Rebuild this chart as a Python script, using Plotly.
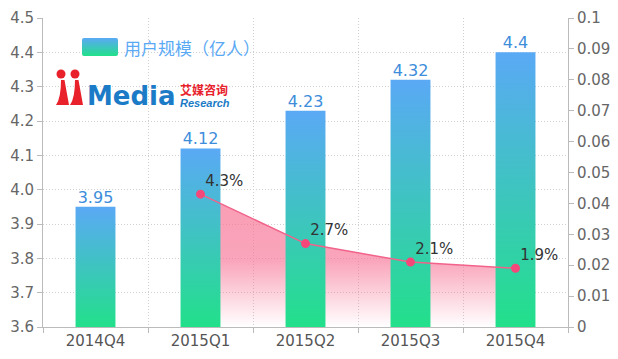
import base64
import plotly.graph_objects as go

# ---- data ----
categories = ["2014Q4", "2015Q1", "2015Q2", "2015Q3", "2015Q4"]
users = [3.95, 4.12, 4.23, 4.32, 4.4]            # 用户规模（亿人）
rate_categories = ["2015Q1", "2015Q2", "2015Q3", "2015Q4"]
rates = [0.043, 0.027, 0.021, 0.019]              # growth rate
user_range = [3.6, 4.5]
rate_range = [0, 0.1]
legend_name = "用户规模（亿人）"

# ---- geometry helpers (plot area in pixels) ----
W, H = 618, 359
L, R, T, B = 43, 50, 18, 32
PW, PH = W - L - R, H - T - B


def px(x):
    return (x - L) / PW


def py(y):
    return (H - B - y) / PH


idx = {c: i for i, c in enumerate(categories)}
half = 0.19
FONT = "DejaVu Sans"

fig = go.Figure()

# growth-rate area (drawn lowest)
rx = [idx[c] for c in rate_categories]
fig.add_trace(go.Scatter(
    x=rx, y=rates, mode="none", fill="tozeroy",
    fillgradient=dict(type="vertical", start=rate_range[0], stop=max(rates),
                      colorscale=[[0, "rgba(246,110,145,0)"],
                                  [0.5, "rgba(246,110,145,0.62)"],
                                  [1, "rgba(246,110,145,0.68)"]]),
    yaxis="y", showlegend=False, hoverinfo="skip"))

# bars with vertical gradient
for i, v in enumerate(users):
    fig.add_trace(go.Scatter(
        x=[i - half, i - half, i + half, i + half, i - half],
        y=[user_range[0], v, v, user_range[0], user_range[0]],
        mode="none", fill="toself",
        fillgradient=dict(type="vertical",
                          colorscale=[[0, "#22e08a"], [1, "#5aa9f5"]]),
        yaxis="y2", showlegend=False, name=categories[i], hoverinfo="skip"))

# bar value labels
fig.add_trace(go.Scatter(
    x=list(range(len(users))), y=users, mode="text",
    text=[f"{v:g}" for v in users], textposition="top center",
    textfont=dict(size=16, color="#3d8ddb", family=FONT),
    yaxis="y2", showlegend=False, hoverinfo="skip"))

# growth-rate line on top
fig.add_trace(go.Scatter(
    x=rx, y=rates, mode="lines+markers+text",
    text=[f"{v * 100:.1f}%" for v in rates], textposition="top right",
    textfont=dict(size=15, color="#333333", family=FONT),
    line=dict(color="#f2628a", width=1.5),
    marker=dict(size=6, color="#f4477a", line=dict(width=3, color="#f4477a")),
    yaxis="y3", showlegend=False))

tickfont = dict(size=15, color="#666666", family=FONT)
GRID = "#d0d0d0"
DOT = "1px,2px"

# legend swatch (gradient) as image + label annotation
svg = ('<svg xmlns="http://www.w3.org/2000/svg" width="36" height="18">'
       '<defs><linearGradient id="g" x1="0" y1="0" x2="0" y2="1">'
       '<stop offset="0" stop-color="#5aa9f5"/><stop offset="1" stop-color="#22e08a"/>'
       '</linearGradient></defs><rect width="36" height="18" rx="2" fill="url(#g)"/></svg>')
src = "data:image/svg+xml;base64," + base64.b64encode(svg.encode()).decode()

images = [dict(source=src, xref="paper", yref="paper", x=px(82), y=py(38),
               sizex=36 / PW, sizey=18 / PH, sizing="stretch",
               xanchor="left", yanchor="top", layer="above")]

annotations = [
    dict(text=legend_name, xref="paper", yref="paper", x=px(123), y=py(47),
         xanchor="left", yanchor="middle", showarrow=False, borderpad=0,
         font=dict(size=17, color="#5aa9f5", family="Noto Sans CJK SC")),
    dict(text="<b>Media</b>", xref="paper", yref="paper", x=px(86), y=py(96),
         xanchor="left", yanchor="middle", showarrow=False, borderpad=0,
         font=dict(size=26, color="#1b7bc6", family=FONT)),
    dict(text="<b>艾媒咨询</b>", xref="paper", yref="paper", x=px(179), y=py(89),
         xanchor="left", yanchor="middle", showarrow=False, borderpad=0,
         font=dict(size=12, color="#e8212b", family="Noto Sans CJK SC")),
    dict(text="<b><i>Research</i></b>", xref="paper", yref="paper", x=px(179), y=py(102.5),
         xanchor="left", yanchor="middle", showarrow=False, borderpad=0,
         font=dict(size=11, color="#1b7bc6", family="Liberation Sans, Arial")),
]

red = "#e8212b"
shapes = [
    dict(type="circle", xref="paper", yref="paper", x0=px(56.5), x1=px(65.5),
         y0=py(78.5), y1=py(69.5), fillcolor=red, line_width=0),
    dict(type="circle", xref="paper", yref="paper", x0=px(70.5), x1=px(79.5),
         y0=py(78.5), y1=py(69.5), fillcolor=red, line_width=0),
]
for x0 in (56, 70):
    path = (f"M {px(x0 + 5)},{py(80)} L {px(x0 + 8.5)},{py(80)} "
            f"L {px(x0 + 13)},{py(105)} L {px(x0)},{py(105)} "
            f"Q {px(x0 + 5)},{py(98)} {px(x0 + 5)},{py(80)} Z")
    shapes.append(dict(type="path", xref="paper", yref="paper", path=path,
                       fillcolor=red, line_width=0))

fig.update_layout(
    width=W, height=H, autosize=False,
    margin=dict(l=L, r=R, t=T, b=B, pad=0, autoexpand=False),
    plot_bgcolor="white", paper_bgcolor="white",
    xaxis=dict(range=[-0.5, len(categories) - 0.5], tickmode="array",
               tickvals=list(range(len(categories))), ticktext=categories,
               ticks="", showgrid=False, zeroline=False, automargin=False,
               showline=True, linecolor="#bbbbbb", linewidth=1,
               tickfont=dict(size=15, color="#555555", family=FONT),
               minor=dict(tickmode="array",
                          tickvals=[i - 0.5 for i in range(len(categories) + 1)],
                          ticks="outside", ticklen=5, tickcolor="#bbbbbb",
                          showgrid=True, gridcolor=GRID, griddash=DOT, gridwidth=1)),
    yaxis=dict(range=rate_range, dtick=0.01, tick0=0, side="right",
               showgrid=False, zeroline=False, showline=True, automargin=False,
               linecolor="#bbbbbb", ticks="outside", ticklen=5, tickcolor="#bbbbbb",
               tickfont=tickfont),
    yaxis2=dict(range=user_range, dtick=0.1, tick0=user_range[0], tickformat=".1f",
                side="left", overlaying="y", automargin=False,
                showgrid=True, gridcolor=GRID, griddash=DOT, gridwidth=1,
                zeroline=False, showline=True, linecolor="#bbbbbb",
                ticks="outside", ticklen=5, tickcolor="#bbbbbb", tickfont=tickfont),
    yaxis3=dict(range=rate_range, overlaying="y", visible=False),
    images=images, annotations=annotations, shapes=shapes,
)

fig.write_html("out.html", config={"displayModeBar": False},
               post_script="document.body.style.margin='0';"
                           "document.body.style.overflow='hidden';")
